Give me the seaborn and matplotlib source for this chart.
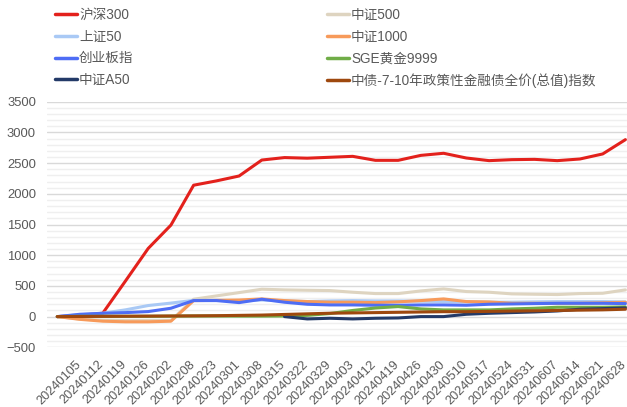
import numpy as np
import pandas as pd
import matplotlib
matplotlib.use("Agg")
import matplotlib.pyplot as plt
import matplotlib.transforms as mtransforms
from matplotlib.lines import Line2D
from matplotlib.ticker import MultipleLocator
import seaborn as sns

dates = ["20240105", "20240112", "20240119", "20240126", "20240202", "20240208",
         "20240223", "20240301", "20240308", "20240315", "20240322", "20240329",
         "20240403", "20240412", "20240419", "20240426", "20240430", "20240510",
         "20240517", "20240524", "20240531", "20240607", "20240614", "20240621",
         "20240628"]
# first point is the unlabeled base point (all series start at 0)
categories = [""] + dates

hs300 = [0, 20, 55, 580, 1110, 1490, 2140, 2210, 2290, 2550, 2590, 2580, 2595,
         2610, 2545, 2545, 2626, 2660, 2583, 2540, 2556, 2561, 2540, 2567, 2649, 2882]
zz500 = [0, -40, -60, -65, -65, -65, 283, 337, 391, 446, 435, 429, 424,
         397, 375, 375, 418, 451, 408, 397, 370, 364, 359, 375, 380, 435]
sz50 = [0, 30, 55, 110, 180, 220, 265, 265, 255, 270, 255, 245, 255,
        260, 255, 255, 250, 245, 240, 235, 235, 240, 245, 245, 245, 240]
zz1000 = [0, -45, -75, -85, -85, -75, 260, 265, 270, 288, 261, 245, 234,
          234, 228, 240, 261, 288, 245, 239, 217, 217, 215, 217, 225, 234]
cyb = [0, 38, 54, 65, 82, 136, 261, 261, 228, 283, 234, 201, 190,
       190, 185, 185, 190, 190, 185, 201, 206, 212, 217, 217, 217, 212]
gold = [0, 5, 5, 5, 5, 8, 10, 10, 8, 8, 10, 20, 50,
        100, 140, 163, 125, 109, 109, 109, 125, 136, 152, 152, 152, 158]
a50 = [np.nan] * 10 + [0, -38, -27, -38, -27, -22, 0, 0, 38, 54, 65, 76, 92, 120, 130, 141]
bond = [0, 2, 4, 6, 8, 10, 12, 15, 20, 25, 35, 45, 55,
        60, 65, 70, 75, 80, 80, 85, 90, 95, 100, 105, 110, 120]

names = ["沪深300", "中证500", "上证50", "中证1000", "创业板指", "SGE黄金9999",
         "中证A50", "中债-7-10年政策性金融债全价(总值)指数"]
series = [hs300, zz500, sz50, zz1000, cyb, gold, a50, bond]
colors = ["#e3211c", "#ded4c0", "#a9c9f5", "#f79a5a", "#4e6df5", "#70ad47",
          "#233a68", "#9e480e"]

rows = []
for name, vals in zip(names, series):
    for i, v in enumerate(vals):
        rows.append({"x": i, "value": v, "series": name})
df = pd.DataFrame(rows)

sns.set_theme(style="white")
plt.rcParams["font.family"] = ["Liberation Sans", "Noto Sans CJK SC", "DejaVu Sans"]

fig = plt.figure(figsize=(6.27, 4.07), dpi=100)
W, H = 627, 407
ax = fig.add_axes([47 / W, 1 - 347.3 / H, 580 / W, (347.3 - 101.7) / H])

sns.lineplot(data=df, x="x", y="value", hue="series", hue_order=names,
             palette=dict(zip(names, colors)), linewidth=2.2, ax=ax,
             legend=False, errorbar=None)

ax.set_xlim(-0.453, 25.07)
ax.set_ylim(-500, 3500)
ax.yaxis.set_major_locator(MultipleLocator(500))
ax.yaxis.set_minor_locator(MultipleLocator(100))
ax.grid(which="major", axis="y", color="#d9d9d9", linewidth=1.0)
ax.grid(which="minor", axis="y", color="#efefef", linewidth=1.0)
ax.grid(which="major", axis="x", visible=False)
ax.set_axisbelow(True)
for s in ax.spines.values():
    s.set_visible(False)

ax.set_xticks(range(1, len(categories)))
ax.set_xticklabels(dates, rotation=45, ha="right", va="top",
                   rotation_mode="anchor", fontsize=9.2, color="#595959")
ax.tick_params(axis="x", length=0, pad=8)
ax.tick_params(axis="y", which="both", length=0, pad=8, labelsize=9.4,
               labelcolor="#595959")
offset = mtransforms.ScaledTranslation(-5 / 100, 0, fig.dpi_scale_trans)
for lab in ax.get_xticklabels():
    lab.set_transform(lab.get_transform() + offset)
ax.set_xlabel("")
ax.set_ylabel("")

handles = [Line2D([], [], color=c, linewidth=2.5) for c in colors]
col1 = [0, 2, 4, 6]
col2 = [1, 3, 5, 7]
for idx, xpos in ((col1, 55), (col2, 327)):
    leg = fig.legend([handles[i] for i in idx], [names[i] for i in idx],
                     loc="upper left", bbox_to_anchor=(xpos / W, 1 - 7.5 / H),
                     frameon=False, borderpad=0, borderaxespad=0,
                     handlelength=1.62, handletextpad=0.15, labelspacing=0.58,
                     fontsize=9.8)
    for t in leg.get_texts():
        t.set_color("#595959")

fig.savefig("out.png", dpi=100)
